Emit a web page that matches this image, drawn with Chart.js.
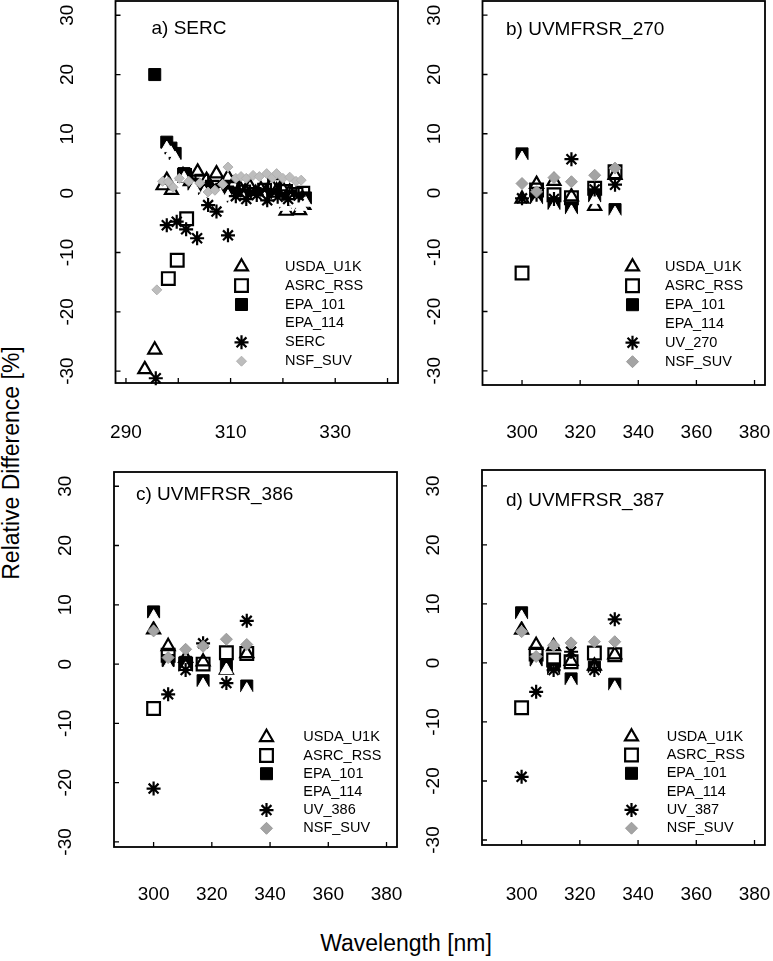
<!DOCTYPE html>
<html><head><meta charset="utf-8">
<script src="https://cdn.jsdelivr.net/npm/chart.js@4.4.1/dist/chart.umd.min.js"></script>
<style>
html,body{margin:0;padding:0;background:#fff;}
#wrap{position:relative;width:773px;height:961px;overflow:hidden;font-family:"Liberation Sans",Arial,sans-serif;background:#fff;}
canvas{position:absolute;left:0;top:0;}
.t{position:absolute;white-space:nowrap;font-size:23px;color:#000;line-height:1;}
</style></head><body>
<div id="wrap">
<div class="t" style="left:11px;top:463px;transform:translate(-50%,-50%) rotate(-90deg);">Relative Difference [%]</div>
<div class="t" style="left:406px;top:943px;transform:translate(-50%,-50%);">Wavelength [nm]</div>
<canvas id="ca" width="773" height="961"></canvas>
<canvas id="cb" width="773" height="961"></canvas>
<canvas id="cc" width="773" height="961"></canvas>
<canvas id="cd" width="773" height="961"></canvas>
</div>
<script>
// ---------- data ----------
const seriesNames = ['USDA_U1K', 'ASRC_RSS', 'EPA_101', 'EPA_114', 'REF', 'NSF_SUV'];
const yTicks = [-30, -20, -10, 0, 10, 20, 30];
const xTicksA = [290, 300, 310, 320, 330, 340];
const xLabelsA = [290, 310, 330];
const xTicksBCD = [300, 320, 340, 360, 380];
const xLabelsBCD = [300, 320, 340, 360, 380];

// panel a) SERC
const usdaA_wl = [293.6, 295.5, 297.1, 297.8, 298.7, 300.9, 302.3, 303.7, 305.4, 306.3, 307.3, 308.4, 309.5, 310.5, 311.8, 312.8, 313.7, 314.8, 315.8, 316.8, 317.8, 318.8, 319.7, 320.6, 321.3, 322.3, 323.2, 324.0];
const usdaA    = [-29.7, -26.4, 1.3, 2.2, 0.5, 3.0, 2.0, 3.6, 2.2, 0.8, 3.3, 1.2, 2.7, 1.5, 0.8, 0.3, 1.1, 0.0, 0.6, 0.2, 1.3, 0.4, 1.1, -3.0, 0.2, -0.8, -2.9, -2.0];
const asrcA_wl = [298.1, 299.8, 301.6, 301.2, 304.5, 306.5, 308.5, 310.5, 312.5, 314.5, 316.5, 318.4, 320.5, 322.5, 323.8];
const asrcA    = [-14.4, -11.3, -4.3, 3.0, 2.0, 1.0, 0.5, 0.8, 0.2, -0.2, 0.5, 1.3, 0.3, -0.2, 0.0];
const epa101A_wl = [295.5, 297.8, 298.6, 299.4, 301.1, 303.0, 305.0, 306.6, 308.0, 309.5, 310.5, 311.5, 312.5, 313.5, 314.5, 315.5, 316.5, 317.5, 318.5, 319.5, 320.5, 321.5, 322.5, 323.5, 324.3];
const epa101A    = [20.0, 8.6, 7.6, 6.7, 3.3, 1.5, 0.8, 0.3, 0.5, 0.2, -0.5, -0.8, -0.3, -1.0, -0.6, -0.8, -0.2, -1.1, -0.5, -0.9, -1.5, -0.6, -1.0, -1.5, -0.8];
const epa114A_wl = [297.8, 298.6, 299.4, 301.1, 303.0, 305.0, 306.6, 308.0, 309.5, 310.5, 311.5, 312.5, 313.5, 314.5, 315.5, 316.5, 317.5, 318.5, 319.5, 320.5, 321.5, 322.5, 323.5, 324.3];
const epa114A    = [7.6, 6.8, 5.9, 2.5, 0.8, 0.0, -0.5, -0.3, -0.6, -1.3, -1.6, -1.1, -1.8, -1.4, -1.6, -1.0, -1.9, -1.3, -1.7, -2.3, -1.4, -1.8, -2.3, -1.6];
const sercA_wl = [295.7, 297.8, 299.7, 301.5, 303.6, 305.7, 307.3, 309.5, 311.0, 313.0, 315.0, 317.0, 319.0, 321.0, 323.0];
const sercA    = [-31.2, -5.4, -4.8, -6.1, -7.6, -2.0, -3.1, -7.1, -0.5, -1.0, -0.3, -1.2, -0.6, -1.0, -0.4];
const nsfA_wl = [295.9, 297.0, 298.1, 299.0, 300.2, 302.0, 304.1, 305.7, 307.0, 308.5, 309.5, 311.0, 312.0, 313.0, 314.3, 315.5, 316.9, 318.0, 318.8, 320.0, 321.3, 322.5, 323.5];
const nsfA    = [-16.3, 2.0, 1.9, 1.0, 2.5, 2.0, 1.7, 0.2, 0.5, 1.5, 4.4, 2.5, 2.8, 2.5, 3.0, 2.8, 3.3, 2.6, 3.3, 2.5, 2.7, 2.0, 2.2];

// panels b-d: UVMFRSR channels
const waveBCD = [300, 305, 311, 317, 325, 332];
// b) UVMFRSR_270
const usdaB   = [-1.0, 1.5, 2.0, -0.6, -2.2, 3.0];
const asrcB   = [-13.5, 0.5, -0.3, -0.8, 0.8, 3.6];
const epa101B = [6.6, -0.8, -1.8, -2.5, -0.5, -2.8];
const epa114B = [5.9, -1.5, -2.5, -3.2, -1.2, -3.4];
const uvB     = [-0.9, -0.3, -1.0, 5.7, 0.6, 1.4];
const nsfB    = [1.6, 0.2, 2.6, 1.9, 3.0, 4.2];
// c) UVMFRSR_386
const usdaC   = [5.8, 3.0, 1.0, 0.4, -1.0, 1.8];
const asrcC   = [-7.5, 1.5, 0.0, 0.0, 1.9, 1.8];
const epa101C = [8.8, 0.6, 0.3, -2.8, -0.2, -3.7];
const epa114C = [8.0, -0.4, -0.8, -3.5, -1.0, -4.3];
const uvC     = [-21.0, -5.1, -1.0, 3.5, -3.2, 7.3];
const nsfC    = [5.6, 1.1, 2.5, 3.0, 4.2, 3.3];
// d) UVMFRSR_387
const usdaD   = [5.6, 3.0, 2.8, 0.3, -0.5, 1.4];
const asrcD   = [-7.6, 1.5, 0.5, 0.2, 1.7, 1.4];
const epa101D = [8.5, 0.5, -1.0, -2.7, -0.7, -3.6];
const epa114D = [7.8, -0.3, -1.6, -3.4, -1.3, -4.2];
const uvD     = [-19.3, -4.9, -1.2, 1.9, -1.2, 7.4];
const nsfD    = [5.3, 1.1, 3.0, 3.4, 3.6, 3.6];

// ---------- styles ----------
const FONT = '"Liberation Sans", Arial, sans-serif';
const INK = '#000';
function styleFor(i, panelA) {
  switch (i) {
    case 0: return {pointStyle: 'triangle', r: 7.5, fill: 'rgba(0,0,0,0)', stroke: INK, bw: 2.2};
    case 1: return {pointStyle: 'rect', r: 9, fill: 'rgba(0,0,0,0)', stroke: INK, bw: 2.2};
    case 2: return {pointStyle: 'rect', r: 8.5, fill: INK, stroke: INK, bw: 1};
    case 3: return {pointStyle: 'triangle', r: 7, fill: '#fff', stroke: '#fff', bw: 1};
    case 4: return {pointStyle: 'star', r: 7, fill: INK, stroke: INK, bw: 2.2};
    default: return panelA
      ? {pointStyle: 'rectRot', r: 5, fill: '#bdbdbd', stroke: '#b0b0b0', bw: 1}
      : {pointStyle: 'rectRot', r: 6, fill: '#a4a4a4', stroke: '#999', bw: 1};
  }
}
function pts(xs, ys) {
  const out = [];
  xs.forEach((x, i) => { if (ys[i] !== null && ys[i] !== undefined) out.push({x: x, y: ys[i]}); });
  return out;
}

const framePlugin = {
  id: 'frame',
  afterDraw(chart, args, o) {
    const ctx = chart.ctx, a = chart.chartArea, x = chart.scales.x, y = chart.scales.y;
    ctx.save();
    ctx.strokeStyle = INK; ctx.lineWidth = 1.8;
    ctx.strokeRect(a.left, a.top, a.right - a.left, a.bottom - a.top);
    ctx.lineWidth = 1.3;
    ctx.beginPath();
    x.ticks.forEach(t => { const px = x.getPixelForValue(t.value); ctx.moveTo(px, a.bottom); ctx.lineTo(px, a.bottom - 5); });
    y.ticks.forEach(t => { const py = y.getPixelForValue(t.value); ctx.moveTo(a.left, py); ctx.lineTo(a.left + 5, py); });
    ctx.stroke();
    // rotated y tick labels
    ctx.fillStyle = INK;
    ctx.font = '19px ' + FONT;
    ctx.textAlign = 'center'; ctx.textBaseline = 'middle';
    y.ticks.forEach(t => {
      const py = y.getPixelForValue(t.value);
      ctx.save(); ctx.translate(a.left - 48, py); ctx.rotate(-Math.PI / 2);
      ctx.fillText(String(t.value), 0, 0); ctx.restore();
    });
    // panel title
    ctx.textAlign = 'left'; ctx.textBaseline = 'alphabetic';
    ctx.fillText(o.title, o.titleX, o.titleY);
    // legend
    ctx.font = '14.5px ' + FONT;
    ctx.textBaseline = 'middle';
    chart.data.datasets.forEach((ds, i) => {
      const yy = o.legY0 + i * o.legDy;
      ctx.save();
      ctx.fillStyle = ds.pointBackgroundColor; ctx.strokeStyle = ds.pointBorderColor; ctx.lineWidth = ds.pointBorderWidth;
      Chart.helpers.drawPoint(ctx, {pointStyle: ds.pointStyle, radius: ds.pointRadius, borderWidth: ds.pointBorderWidth, rotation: 0}, o.legSymX, yy);
      ctx.restore();
      ctx.fillStyle = INK;
      ctx.fillText(ds.label, o.legTextX, yy);
    });
    ctx.restore();
  }
};

function makePanel(id, p) {
  const datasets = p.series.map((s, i) => {
    const st = styleFor(i, p.panelA);
    return {
      label: i === 4 ? p.refName : seriesNames[i],
      data: pts(s[0], s[1]),
      pointStyle: st.pointStyle, pointRadius: st.r, pointHoverRadius: st.r,
      pointBackgroundColor: st.fill, pointBorderColor: st.stroke, pointBorderWidth: st.bw,
      showLine: false, clip: false, order: 5 - i
    };
  });
  return new Chart(document.getElementById(id), {
    type: 'scatter',
    data: {datasets},
    options: {
      responsive: false, animation: false, events: [],
      layout: {autoPadding: false, padding: {left: 0, top: p.area.t, right: 773 - p.area.r, bottom: 0}},
      plugins: {
        legend: {display: false}, tooltip: {enabled: false},
        frame: {title: p.title, titleX: p.titleX, titleY: p.titleY, legSymX: p.legSymX, legTextX: p.legTextX, legY0: p.legY0, legDy: p.legDy}
      },
      scales: {
        x: {
          type: 'linear', position: 'bottom', min: p.xmin, max: p.xmax,
          afterBuildTicks: s => { s.ticks = p.xTicks.map(v => ({value: v})); },
          afterFit: s => { s.height = 961 - p.area.b; s.paddingLeft = 0; s.paddingRight = 0; },
          grid: {display: false, drawTicks: false}, border: {display: false},
          ticks: {autoSkip: false, maxRotation: 0, minRotation: 0, padding: p.labPad, color: INK,
                  font: {size: 19, family: FONT},
                  callback: v => (p.xLabels.indexOf(v) >= 0 ? String(v) : '')}
        },
        y: {
          type: 'linear', position: 'left', min: p.ymin, max: p.ymax,
          afterBuildTicks: s => { s.ticks = yTicks.map(v => ({value: v})); },
          afterFit: s => { s.width = p.area.l; },
          grid: {display: false, drawTicks: false}, border: {display: false},
          ticks: {display: false}
        }
      }
    },
    plugins: [framePlugin]
  });
}

makePanel('ca', {
  panelA: true, title: 'a) SERC', refName: 'SERC', titleX: 151.5, titleY: 33.5,
  area: {l: 115.5, r: 398, t: 1, b: 383}, xmin: 288, xmax: 342, ymin: -32.0, ymax: 32.4,
  xTicks: xTicksA, xLabels: xLabelsA, labPad: 38.5,
  legSymX: 241.5, legTextX: 285, legY0: 266.7, legDy: 18.9,
  series: [[usdaA_wl, usdaA], [asrcA_wl, asrcA], [epa101A_wl, epa101A], [epa114A_wl, epa114A], [sercA_wl, sercA], [nsfA_wl, nsfA]]
});
makePanel('cb', {
  panelA: false, title: 'b) UVMFRSR_270', refName: 'UV_270', titleX: 506, titleY: 35,
  area: {l: 482.5, r: 765, t: 1, b: 385}, xmin: 286.4, xmax: 383.6, ymin: -32.4, ymax: 32.4,
  xTicks: xTicksBCD, xLabels: xLabelsBCD, labPad: 36.5,
  legSymX: 632.5, legTextX: 665, legY0: 266.7, legDy: 19,
  series: [[waveBCD, usdaB], [waveBCD, asrcB], [waveBCD, epa101B], [waveBCD, epa114B], [waveBCD, uvB], [waveBCD, nsfB]]
});
makePanel('cc', {
  panelA: false, title: 'c) UVMFRSR_386', refName: 'UV_386', titleX: 136, titleY: 500,
  area: {l: 114, r: 397, t: 472, b: 847}, xmin: 286.4, xmax: 383.6, ymin: -30.85, ymax: 32.4,
  xTicks: xTicksBCD, xLabels: xLabelsBCD, labPad: 36.5,
  legSymX: 266.5, legTextX: 303.3, legY0: 737.3, legDy: 18.2,
  series: [[waveBCD, usdaC], [waveBCD, asrcC], [waveBCD, epa101C], [waveBCD, epa114C], [waveBCD, uvC], [waveBCD, nsfC]]
});
makePanel('cd', {
  panelA: false, title: 'd) UVMFRSR_387', refName: 'UV_387', titleX: 506, titleY: 506,
  area: {l: 482, r: 765, t: 470, b: 845}, xmin: 286.4, xmax: 383.6, ymin: -30.85, ymax: 32.7,
  xTicks: xTicksBCD, xLabels: xLabelsBCD, labPad: 38.5,
  legSymX: 631.5, legTextX: 666.7, legY0: 736.7, legDy: 18.3,
  series: [[waveBCD, usdaD], [waveBCD, asrcD], [waveBCD, epa101D], [waveBCD, epa114D], [waveBCD, uvD], [waveBCD, nsfD]]
});
</script>
</body></html>
